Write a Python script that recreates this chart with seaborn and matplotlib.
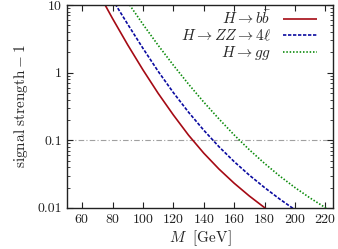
import pandas as pd
import seaborn as sns
import matplotlib.pyplot as plt
from matplotlib.ticker import LogLocator, FixedLocator, FuncFormatter

# signal strength - 1
mass_bb = [70, 80, 90, 100, 110, 120, 130, 140, 150, 160, 170, 180, 185]
mu_bb = [16.2, 6.31, 2.57, 1.10, 0.495, 0.237, 0.119, 0.0646, 0.0376, 0.0232, 0.0150, 0.0101, 0.0083]

mass_zz = [80, 90, 100, 110, 120, 130, 140, 150, 160, 170, 180, 190, 200]
mu_zz = [12.0, 5.19, 2.29, 1.047, 0.507, 0.260, 0.141, 0.0804, 0.0484, 0.0305, 0.0200, 0.0135, 0.0094]

mass_gg = [90, 100, 110, 120, 130, 140, 150, 160, 170, 180, 190, 200, 210, 220, 225]
mu_gg = [11.0, 5.19, 2.54, 1.29, 0.676, 0.367, 0.207, 0.120, 0.0724, 0.0455, 0.0296, 0.0200, 0.0140, 0.0101, 0.0086]

labels = [r'$H \rightarrow b\bar{b}$', r'$H \rightarrow ZZ \rightarrow 4\ell$', r'$H \rightarrow gg$']
x_ticks = [60, 80, 100, 120, 140, 160, 180, 200, 220]

df = pd.concat([
    pd.DataFrame({'M': mass_bb, 'mu': mu_bb, 'channel': labels[0]}),
    pd.DataFrame({'M': mass_zz, 'mu': mu_zz, 'channel': labels[1]}),
    pd.DataFrame({'M': mass_gg, 'mu': mu_gg, 'channel': labels[2]}),
])

sns.set_style('ticks')
plt.rcParams['mathtext.fontset'] = 'cm'
plt.rcParams['font.family'] = ['cmr10', 'DejaVu Serif']
plt.rcParams['axes.formatter.use_mathtext'] = True

fig = plt.figure(figsize=(3.38, 2.49), dpi=100)
ax = fig.add_axes([0.198, 0.165, 0.787, 0.815])

colors = ['#a50a14', '#0a0aa0', '#0a8a0a']
styles = [(0, ()), (0, (2.0, 1.0)), (0, (0.9, 1.1))]
for lab, col, ls in zip(labels, colors, styles):
    sub = df[df['channel'] == lab]
    sns.lineplot(data=sub, x='M', y='mu', ax=ax, color=col, linestyle=ls,
                 linewidth=1.2, label=lab, sort=False)

ax.axhline(0.1, color='#a0a0a0', linestyle=(0, (5, 2, 1, 2)), linewidth=0.8, zorder=0)

ax.set_yscale('log')
ax.set_xlim(50, 225)
ax.set_ylim(0.01, 10)
ax.xaxis.set_major_locator(FixedLocator(x_ticks))
ax.yaxis.set_major_locator(LogLocator(base=10))
ax.yaxis.set_minor_locator(LogLocator(base=10, subs=range(2, 10)))
ax.yaxis.set_major_formatter(FuncFormatter(lambda v, p: {0.01: '0.01', 0.1: '0.1', 1: '1', 10: '10'}.get(round(v, 3), '')))
ax.yaxis.set_minor_formatter(FuncFormatter(lambda v, p: ''))

ax.tick_params(which='both', direction='in', top=True, right=True, labelsize=10, colors='#222222')
ax.tick_params(which='major', length=4, width=0.8)
ax.tick_params(which='minor', length=2, width=0.6)
for s in ax.spines.values():
    s.set_linewidth(1.0)
    s.set_color('#222222')

ax.set_xlabel(r'$M\ \ [\mathrm{GeV}]$', fontsize=11, labelpad=2)
ax.set_ylabel(r'$\mathrm{signal\ strength} - 1$', fontsize=11, labelpad=5)

leg = ax.legend(loc='upper right', bbox_to_anchor=(0.94, 0.975), frameon=False, markerfirst=False,
                fontsize=11, handlelength=2.2, labelspacing=0.05, borderaxespad=0.0, borderpad=0.0,
                handletextpad=0.8)
for t in leg.get_texts():
    t.set_ha('right')
leg._legend_box.align = 'right'

fig.savefig('out.png', dpi=100)
